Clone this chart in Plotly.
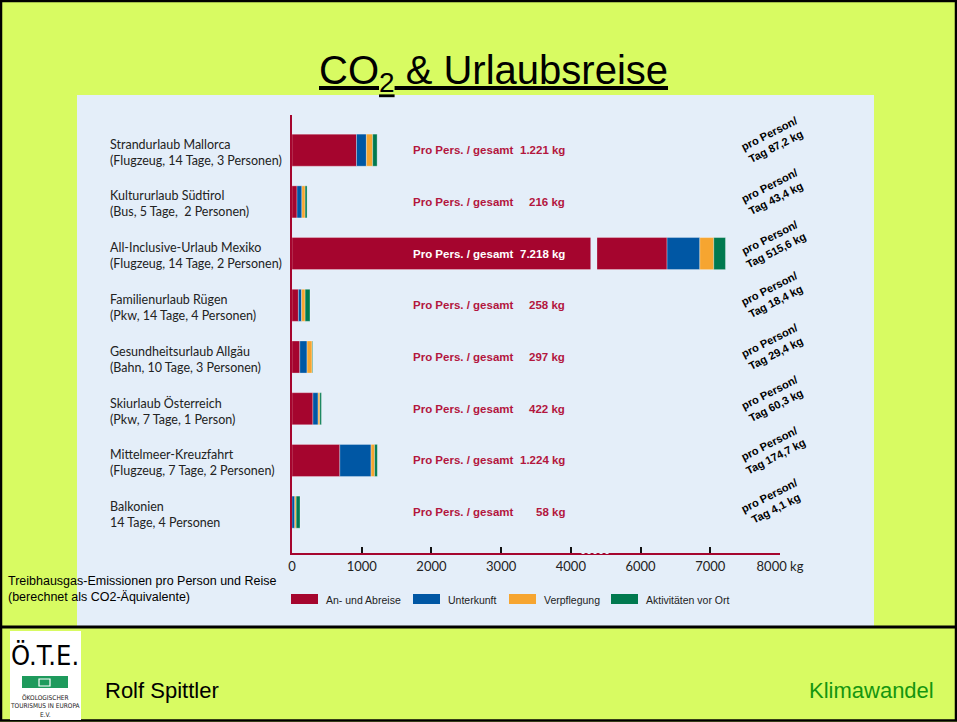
import plotly.graph_objects as go

W, H = 957, 722

trips = [
    "Strandurlaub Mallorca<br>(Flugzeug, 14 Tage, 3 Personen)",
    "Kultururlaub Südtirol<br>(Bus, 5 Tage,  2 Personen)",
    "All-Inclusive-Urlaub Mexiko<br>(Flugzeug, 14 Tage, 2 Personen)",
    "Familienurlaub Rügen<br>(Pkw, 14 Tage, 4 Personen)",
    "Gesundheitsurlaub Allgäu<br>(Bahn, 10 Tage, 3 Personen)",
    "Skiurlaub Österreich<br>(Pkw, 7 Tage, 1 Person)",
    "Mittelmeer-Kreuzfahrt<br>(Flugzeug, 7 Tage, 2 Personen)",
    "Balkonien<br>14 Tage, 4 Personen",
]
anreise = [925, 72, 6380, 92, 112, 300, 686, 0]
unterkunft = [142, 70, 470, 46, 104, 75, 448, 40]
verpflegung = [90, 46, 200, 50, 72, 24, 52, 20]
aktivitaeten = [64, 28, 168, 70, 9, 23, 38, 55]
gesamt = ["1.221 kg", "216 kg", "7.218 kg", "258 kg", "297 kg", "422 kg", "1.224 kg", "58 kg"]
pro_tag = ["87,2", "43,4", "515,6", "18,4", "29,4", "60,3", "174,7", "4,1"]
tick_vals = [0, 1000, 2000, 3000, 4000, 5000, 6000, 7000]
tick_text = ["0", "1000", "2000", "3000", "4000", "6000", "7000", "8000 kg"]

series = [
    ("An- und Abreise", anreise, "#a5052e"),
    ("Unterkunft", unterkunft, "#0057a4"),
    ("Verpflegung", verpflegung, "#f6a530"),
    ("Aktivitäten vor Ort", aktivitaeten, "#00794f"),
]

PANEL = "#e4eef9"
RED_TXT = "#b3163e"


def px(x):
    return x / W


def py(y):
    return 1 - y / H


def squeeze(v):
    # axis is broken between 4000 and 6000 (one step missing)
    return v - 1000 if v > 4500 else v


rows = list(range(len(trips)))
fig = go.Figure()
cum = [0] * len(trips)
for name, vals, col in series:
    base = [squeeze(c) for c in cum]
    ends = [squeeze(c + v) for c, v in zip(cum, vals)]
    fig.add_trace(go.Bar(
        orientation="h", y=rows, x=[e - b for e, b in zip(ends, base)], base=base,
        width=0.62, marker=dict(color=col, line=dict(color="rgba(255,255,255,0.5)", width=0.6)),
        name=name, showlegend=False, hoverinfo="skip",
    ))
    cum = [c + v for c, v in zip(cum, vals)]

fig.update_layout(
    width=W, height=H, margin=dict(l=0, r=0, t=0, b=0, autoexpand=False),
    paper_bgcolor="#d8fb62", plot_bgcolor="rgba(0,0,0,0)",
    barmode="overlay", showlegend=False,
    font=dict(family="Liberation Sans, Arial", color="#222"),
    xaxis=dict(
        domain=[px(292), px(780)], range=[0, 7000],
        tickvals=tick_vals, ticktext=tick_text,
        showline=True, linecolor="#a5052e", linewidth=2,
        ticks="inside", ticklen=6, tickwidth=2, tickcolor="#111",
        showgrid=False, zeroline=False, automargin=False,
        tickfont=dict(family="Lato, Open Sans", size=13, color="#222"),
    ),
    yaxis=dict(
        domain=[py(553), py(115)], range=[7.79, -0.68],
        showline=True, linecolor="#a5052e", linewidth=2, automargin=False,
        showticklabels=False, ticks="", showgrid=False, zeroline=False,
    ),
)

shapes = [
    # light blue panel
    dict(type="rect", xref="paper", yref="paper", x0=px(77), x1=px(874), y0=py(626), y1=py(95),
         fillcolor=PANEL, line=dict(width=0), layer="below"),
    # gap in the Mexico bar (axis break)
    dict(type="rect", xref="x", yref="y", x0=4282, x1=4377, y0=2 - 0.33, y1=2 + 0.33,
         fillcolor=PANEL, line=dict(width=0), layer="above"),
    # dotted piece of the axis line at the break
    dict(type="line", xref="x", yref="y domain", x0=4153, x1=4569, y0=0, y1=0,
         line=dict(color=PANEL, width=2, dash="dot"), layer="above"),
    # footer line
    dict(type="line", xref="paper", yref="paper", x0=0, x1=1, y0=py(627), y1=py(627),
         line=dict(color="black", width=3)),
    # slide border
    dict(type="rect", xref="paper", yref="paper", x0=px(1), x1=px(956), y0=py(720.5), y1=py(1),
         line=dict(color="black", width=2.5)),
    # logo
    dict(type="rect", xref="paper", yref="paper", x0=px(10), x1=px(81), y0=py(720), y1=py(631),
         fillcolor="white", line=dict(width=0)),
    dict(type="rect", xref="paper", yref="paper", x0=px(22), x1=px(68), y0=py(688), y1=py(676),
         fillcolor="#1e9a5c", line=dict(width=0)),
    dict(type="rect", xref="paper", yref="paper", x0=px(39), x1=px(50), y0=py(686), y1=py(679),
         fillcolor="#1e9a5c", line=dict(color="white", width=1.2)),
]

ann = []
# title
ann.append(dict(text="<u>CO<sub>2</sub> & Urlaubsreise</u>", xref="paper", yref="paper",
                x=px(494), y=py(73), xanchor="center", yanchor="middle", showarrow=False,
                font=dict(size=40, color="black", family="Liberation Sans, Arial")))

for i in rows:
    ann.append(dict(text=trips[i], xref="paper", yref="y", x=px(108), y=i, xanchor="left",
                    yanchor="middle", align="left", showarrow=False, yshift=-2,
                    font=dict(family="Lato, Open Sans", size=12.5, color="#222")))
    col = "white" if i == 2 else RED_TXT
    ann.append(dict(text="<b>Pro Pers. / gesamt</b>", xref="paper", yref="y", x=px(411), y=i,
                    xanchor="left", yanchor="middle", showarrow=False,
                    font=dict(size=11.5, color=col)))
    ann.append(dict(text="<b>" + gesamt[i] + "</b>", xref="paper", yref="y", x=px(567), y=i,
                    xanchor="right", yanchor="middle", showarrow=False,
                    font=dict(size=11.5, color=col)))
    ann.append(dict(text="<b>pro Person/<br>Tag " + pro_tag[i] + " kg</b>", xref="paper", yref="y",
                    x=px(772), y=i, xanchor="center", yanchor="middle", showarrow=False,
                    textangle=-27, yshift=10, font=dict(size=11, color="black")))

ann.append(dict(text="Treibhausgas-Emissionen pro Person und Reise<br>(berechnet als CO2-Äquivalente)",
                xref="paper", yref="paper", x=px(6), y=py(589), xanchor="left", yanchor="middle",
                align="left", showarrow=False, font=dict(size=12.5, color="black")))

# legend
legend_pos = [291, 413, 509, 611]
for (name, _, col), lx in zip(series, legend_pos):
    shapes.append(dict(type="rect", xref="paper", yref="paper", x0=px(lx), x1=px(lx + 27),
                       y0=py(604), y1=py(594), fillcolor=col, line=dict(width=0)))
    ann.append(dict(text=name, xref="paper", yref="paper", x=px(lx + 33), y=py(600), xanchor="left",
                    yanchor="middle", showarrow=False, font=dict(size=10.5, color="#222")))

# footer
ann.append(dict(text="Ö.T.E.", xref="paper", yref="paper", x=px(45), y=py(655), xanchor="center",
                yanchor="middle", showarrow=False,
                font=dict(family="Liberation Sans Narrow, DejaVu Sans Condensed", size=27, color="black")))
ann.append(dict(text="ÖKOLOGISCHER<br>TOURISMUS IN EUROPA<br>E.V.", xref="paper", yref="paper",
                x=px(45), y=py(706), xanchor="center", yanchor="middle", showarrow=False,
                font=dict(family="Liberation Sans Narrow, DejaVu Sans Condensed", size=6.5, color="#222")))
ann.append(dict(text="Rolf Spittler", xref="paper", yref="paper", x=px(103), y=py(690), xanchor="left",
                yanchor="middle", showarrow=False, font=dict(size=22, color="black")))
ann.append(dict(text="Klimawandel", xref="paper", yref="paper", x=px(936), y=py(690), xanchor="right",
                yanchor="middle", showarrow=False, font=dict(size=22, color="#15960f")))

fig.update_layout(shapes=shapes, annotations=ann)
fig.write_html("out.html", config={"displayModeBar": False},
               post_script="document.body.style.margin='0';document.body.style.overflow='hidden';")
